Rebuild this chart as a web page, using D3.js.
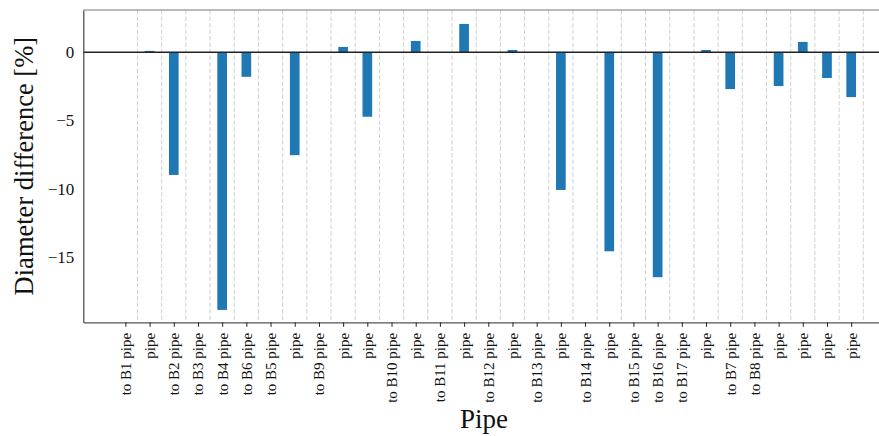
<!DOCTYPE html>
<html>
<head>
<meta charset="utf-8">
<script src="https://cdn.jsdelivr.net/npm/d3@7"></script>
<style>
  html, body { margin: 0; padding: 0; background: #fff; }
  svg { display: block; }
  svg text { font-family: "Liberation Serif", "DejaVu Serif", serif !important; fill: #111; }
</style>
</head>
<body>
<svg id="chart" width="879" height="436"></svg>
<script>
// Pipe names along the x axis
const pipes = [
  "to B1 pipe", "pipe", "to B2 pipe", "to B3 pipe", "to B4 pipe", "to B6 pipe",
  "to B5 pipe", "pipe", "to B9 pipe", "pipe", "pipe", "to B10 pipe", "pipe",
  "to B11 pipe", "pipe", "to B12 pipe", "pipe", "to B13 pipe", "pipe",
  "to B14 pipe", "pipe", "to B15 pipe", "to B16 pipe", "to B17 pipe", "pipe",
  "to B7 pipe", "to B8 pipe", "pipe", "pipe", "pipe", "pipe"
];

// Diameter difference per pipe, in percent
const diffPct = [
  0.0, 0.1, -9.0, 0.0, -18.9, -1.8,
  0.0, -7.55, 0.0, 0.39, -4.73, 0.0, 0.83,
  0.0, 2.08, 0.0, 0.17, 0.0, -10.1,
  0.0, -14.6, 0.0, -16.5, 0.0, 0.17,
  -2.7, 0.0, -2.48, 0.76, -1.89, -3.29
];

const yTicks = [0, -5, -10, -15];

const svg = d3.select("#chart");
const plot = { left: 83.3, right: 879, top: 10, bottom: 322.3 };

const idx = d3.range(pipes.length);
const x = d3.scaleLinear().domain([-1.74, 31.15]).range([plot.left, plot.right]);
const y = d3.scaleLinear().domain([-19.81, 3.1]).range([plot.bottom, plot.top]);
const barW = 0.4;

// dashed separators between pipes
svg.append("g")
  .selectAll("line")
  .data(idx)
  .join("line")
  .attr("x1", i => x(i + 0.5)).attr("x2", i => x(i + 0.5))
  .attr("y1", plot.top).attr("y2", plot.bottom)
  .attr("stroke", "#d0d0d0")
  .attr("stroke-width", 1)
  .attr("stroke-dasharray", "4.5,2");

// bars
svg.append("g")
  .selectAll("rect")
  .data(idx)
  .join("rect")
  .attr("x", i => x(i - barW / 2))
  .attr("width", i => x(barW) - x(0))
  .attr("y", i => y(Math.max(0, diffPct[i])))
  .attr("height", i => Math.abs(y(diffPct[i]) - y(0)))
  .attr("fill", "#1f77b4");

// zero reference line
svg.append("line")
  .attr("x1", plot.left).attr("x2", plot.right)
  .attr("y1", y(0)).attr("y2", y(0))
  .attr("stroke", "#222").attr("stroke-width", 1.4);

// x axis with rotated labels
const xAxis = d3.axisBottom(x)
  .tickValues(idx)
  .tickFormat(i => pipes[i])
  .tickSizeInner(4.5).tickSizeOuter(0).tickPadding(6);

const gx = svg.append("g")
  .attr("transform", `translate(0,${plot.bottom})`)
  .call(xAxis);
gx.select(".domain").attr("stroke", "#555").attr("stroke-width", 1.2);
gx.selectAll(".tick line").attr("stroke", "#222").attr("stroke-width", 1);
gx.selectAll(".tick text")
  .attr("font-size", 15)
  .attr("fill", "#111")
  .attr("transform", "rotate(-90)")
  .attr("text-anchor", "end")
  .attr("x", -10.5)
  .attr("y", 0)
  .attr("dy", "0.33em");

// y axis
const yAxis = d3.axisLeft(y)
  .tickValues(yTicks)
  .tickFormat(v => v < 0 ? "\u2212" + Math.abs(v) : String(v))
  .tickSize(0).tickPadding(9);

const gy = svg.append("g")
  .attr("transform", `translate(${plot.left},0)`)
  .call(yAxis);
gy.select(".domain").attr("stroke", "#444").attr("stroke-width", 1.2);
gy.selectAll(".tick text")
  .attr("font-size", 17)
  .attr("fill", "#111");

// top frame edge
svg.append("line")
  .attr("x1", plot.left).attr("x2", plot.right)
  .attr("y1", plot.top).attr("y2", plot.top)
  .attr("stroke", "#777").attr("stroke-width", 1.2);

// axis titles
svg.append("text")
  .attr("transform", `translate(33,${(plot.top + plot.bottom) / 2}) rotate(-90)`)
  .attr("text-anchor", "middle")
  .attr("font-size", 26.5)
  .text("Diameter difference [%]");

svg.append("text")
  .attr("x", 484)
  .attr("y", 428)
  .attr("text-anchor", "middle")
  .attr("font-size", 27)
  .text("Pipe");
</script>
</body>
</html>
